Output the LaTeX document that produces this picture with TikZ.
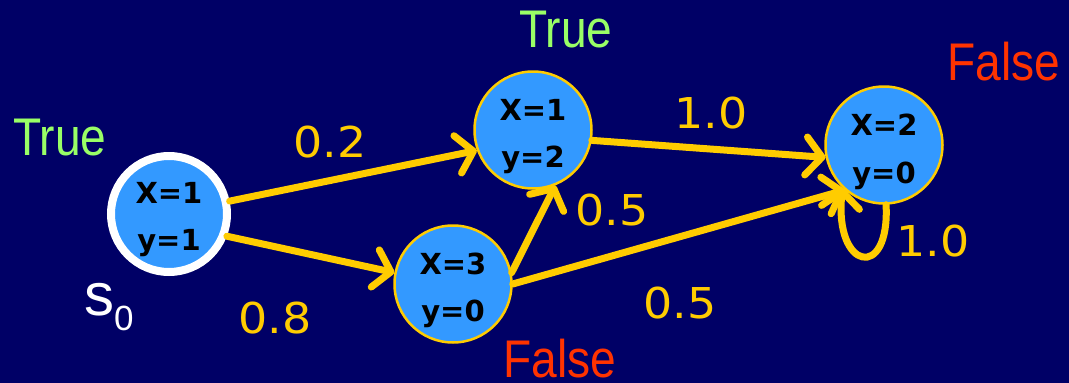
\documentclass[tikz,border=0pt]{standalone}
\usepackage{fontspec}
\setmainfont{Liberation Sans}
\newfontfamily\numfont{DejaVu Sans}
\newfontfamily\nodefont{DejaVu Sans}
\usetikzlibrary{arrows.meta,calc}
\definecolor{bg}{RGB}{0,0,102}
\definecolor{nodeblue}{RGB}{51,153,255}
\definecolor{nodeyellow}{RGB}{255,204,0}
\definecolor{truegreen}{RGB}{153,255,102}
\definecolor{falsered}{RGB}{255,51,0}
\newcommand{\wordbox}[1]{\scalebox{0.87}[1]{#1}}
\newcommand{\numbox}[1]{\scalebox{1.08}[1]{#1}}
\tikzset{
  state/.style={circle, fill=nodeblue, draw=nodeyellow, line width=2.5pt, minimum size=117pt, inner sep=0pt},
  startstate/.style={state, draw=white, line width=8pt, minimum size=116pt},
  statetxt/.style={anchor=base, inner sep=0pt, text=black, font=\nodefont\bfseries\fontsize{29}{29}\selectfont},
  prob/.style={anchor=base, inner sep=0pt, text=nodeyellow, font=\numfont\fontsize{42.5}{42.5}\selectfont},
  truelbl/.style={anchor=base, inner sep=0pt, text=truegreen, font=\fontsize{53}{53}\selectfont},
  falselbl/.style={anchor=base, inner sep=0pt, text=falsered, font=\fontsize{53}{53}\selectfont},
  trans/.style={draw=nodeyellow, line width=7pt, line cap=round, -{Straight Barb[length=16pt,width=38pt,round]}}
}
\begin{document}
\begin{tikzpicture}[x=1pt,y=-1pt]
\fill[bg] (0,0) rectangle (1069,383);
\useasboundingbox (0,0) rectangle (1069,383);

% states
\node[startstate] (s0) at (169,214) {};
\node[state] (n12) at (533,130) {};
\node[state] (n30) at (453,284) {};
\node[state] (n20) at (884,145) {};

% state texts
\node[statetxt] (s0a) at ($(s0)+(0,-11)$) {X=1};
\node[statetxt] (s0b) at ($(s0)+(0,36)$) {y=1};
\node[statetxt] (n12a) at ($(n12)+(0,-10)$) {X=1};
\node[statetxt] (n12b) at ($(n12)+(0,37)$) {y=2};
\node[statetxt] (n30a) at ($(n30)+(0,-10)$) {X=3};
\node[statetxt] (n30b) at ($(n30)+(0,37)$) {y=0};
\node[statetxt] (n20a) at ($(n20)+(0,-10)$) {X=2};
\node[statetxt] (n20b) at ($(n20)+(0,38)$) {y=0};

% transitions
\draw[trans] (s0.12) -- (n12.200);
\draw[trans] (s0.-21) -- (n30.169);
\draw[trans] (n12.-10) -- (n20.192);
\draw[trans] (n30.11) -- (n12.-68);
\draw[trans] (n30.0) -- (n20.229);
\draw[trans] (n20.-88) .. controls (890,282) and (834,270) .. (n20.226);

% probabilities
\node[prob] (p02) at (330,157) {\numbox{0.2}};
\node[prob] (p08) at (275,333) {\numbox{0.8}};
\node[prob] (p10a) at (711,128) {\numbox{1.0}};
\node[prob] (p05a) at (612,225) {\numbox{0.5}};
\node[prob] (p05b) at (680,318) {\numbox{0.5}};
\node[prob] (p10b) at (933,256) {\numbox{1.0}};

% truth labels
\node[truelbl] (t1) at (60,155) {\wordbox{True}};
\node[truelbl] (t2) at (566,47) {\wordbox{True}};
\node[falselbl] (f1) at (1004,80) {\wordbox{False}};
\node[falselbl] (f2) at (560,377) {\wordbox{False}};

% start label
\node[anchor=base west, inner sep=0pt, text=white, font=\fontsize{60}{60}\selectfont] (s0lbl) at (84,315) {s\raisebox{-15pt}{\fontsize{35}{35}\selectfont 0}};
\end{tikzpicture}
\end{document}
